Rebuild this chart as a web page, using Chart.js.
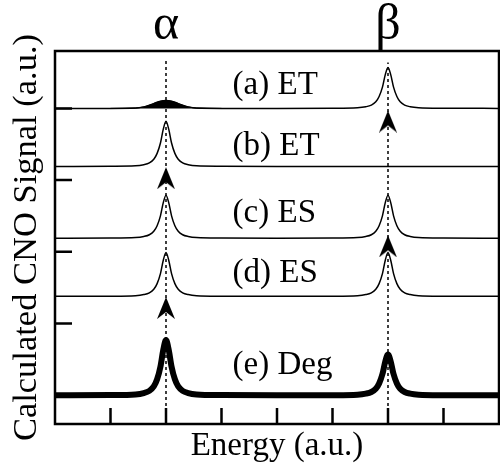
<!DOCTYPE html>
<html>
<head>
<meta charset="utf-8">
<script src="https://cdn.jsdelivr.net/npm/chart.js@4.4.1/dist/chart.umd.min.js"></script>
<style>
  html, body { margin: 0; padding: 0; background: #fff; }
  canvas { display: block; }
</style>
</head>
<body>
<canvas id="chart" width="500" height="466"></canvas>
<script>
// energy grid (a.u.), denser round the two peaks
var energy = [0, 1.0, 1.45, 1.6, 1.7, 1.78, 1.84, 1.9, 1.95, 2.0, 2.05, 2.1, 2.16, 2.22, 2.3, 2.4, 2.55, 3.0,
              4.0,
              5.0, 5.45, 5.6, 5.7, 5.78, 5.84, 5.9, 5.95, 6.0, 6.05, 6.1, 6.16, 6.22, 6.3, 6.4, 6.55, 7.0,
              8.0];

// stacked traces, already offset
var traceA = [4.0, 4.0, 4.004, 4.021, 4.044, 4.066, 4.085, 4.099, 4.107, 4.11, 4.107, 4.099, 4.085, 4.066, 4.044, 4.021, 4.004, 4.0,
              4.0,
              4.002, 4.009, 4.023, 4.046, 4.091, 4.165, 4.296, 4.467, 4.57, 4.467, 4.296, 4.165, 4.091, 4.046, 4.023, 4.009, 4.002,
              4.0];
var traceB = [3.19, 3.193, 3.199, 3.215, 3.24, 3.291, 3.373, 3.518, 3.707, 3.82, 3.707, 3.518, 3.373, 3.291, 3.24, 3.215, 3.199, 3.193,
              3.19,
              3.19, 3.19, 3.19, 3.19, 3.19, 3.19, 3.19, 3.19, 3.19, 3.19, 3.19, 3.19, 3.19, 3.19, 3.19, 3.19, 3.19,
              3.19];
var traceC = [2.19, 2.192, 2.199, 2.214, 2.238, 2.286, 2.364, 2.502, 2.682, 2.79, 2.682, 2.502, 2.364, 2.286, 2.238, 2.214, 2.199, 2.192,
              2.19,
              2.192, 2.199, 2.214, 2.238, 2.286, 2.364, 2.502, 2.682, 2.79, 2.682, 2.502, 2.364, 2.286, 2.238, 2.214, 2.199, 2.192,
              2.19];
var traceD = [1.38, 1.382, 1.389, 1.404, 1.429, 1.478, 1.557, 1.697, 1.88, 1.99, 1.88, 1.697, 1.557, 1.478, 1.429, 1.404, 1.389, 1.382,
              1.38,
              1.382, 1.389, 1.404, 1.429, 1.478, 1.557, 1.697, 1.88, 1.99, 1.88, 1.697, 1.557, 1.478, 1.429, 1.404, 1.389, 1.382,
              1.38];
var traceE = [0, 0.003, 0.012, 0.031, 0.062, 0.123, 0.223, 0.4, 0.631, 0.77, 0.631, 0.4, 0.223, 0.123, 0.062, 0.031, 0.012, 0.003,
              0,
              0.002, 0.009, 0.023, 0.046, 0.091, 0.165, 0.296, 0.467, 0.57, 0.467, 0.296, 0.165, 0.091, 0.046, 0.023, 0.009, 0.002,
              0];

var peakNames = ['α', 'β'];
var peakEnergy = [2, 6];
var guideTop = [4.67, 4.64];

var arrowX = [6, 2, 6, 2];
var arrowTip = [3.97, 3.18, 2.23, 1.37];

var panelLabels = ['(a) ET', '(b) ET', '(c) ES', '(d) ES', '(e) Deg'];
var panelLabelX = 3.2;
var panelLabelY = [4.195, 3.345, 2.41, 1.575, 0.293];

var xTicks = [1, 2, 3, 4, 5, 6, 7];
var yTicks = [0, 1, 2, 3, 4];

function toPoints(xs, ys) {
    var pts = [];
    for (var i = 0; i < xs.length; i++) {
        pts.push({ x: xs[i], y: ys[i] });
    }
    return pts;
}

function arrowHead() {
    var c = document.createElement('canvas');
    c.width = 18;
    c.height = 44;
    var g = c.getContext('2d');
    g.fillStyle = '#000';
    g.beginPath();
    g.moveTo(9, 22);
    g.lineTo(18, 44);
    g.lineTo(9, 37);
    g.lineTo(0, 44);
    g.closePath();
    g.fill();
    return c;
}

var serif = '"Liberation Serif", "Times New Roman", serif';

function trace(data, width) {
    return {
        data: toPoints(energy, data),
        borderColor: '#000',
        borderWidth: width,
        pointRadius: 0,
        fill: false,
        cubicInterpolationMode: 'monotone'
    };
}

var datasets = [];

// dotted guides at the two peak energies
for (var i = 0; i < peakEnergy.length; i++) {
    datasets.push({
        data: [{ x: peakEnergy[i], y: -0.4 }, { x: peakEnergy[i], y: guideTop[i] }],
        borderColor: '#000',
        borderWidth: 1.5,
        borderDash: [3, 3],
        pointRadius: 0
    });
}

// small filled hump in (a)
datasets.push({
    data: toPoints(energy.slice(1, 18), traceA.slice(1, 18)),
    borderColor: '#000',
    borderWidth: 1,
    backgroundColor: '#000',
    pointRadius: 0,
    fill: { value: 4.0 },
    cubicInterpolationMode: 'monotone'
});

datasets.push(trace(traceA, 1.5));
datasets.push(trace(traceB, 1.5));
datasets.push(trace(traceC, 1.5));
datasets.push(trace(traceD, 1.5));
datasets.push(trace(traceE, 6));

datasets.push({
    data: toPoints(arrowX, arrowTip),
    showLine: false,
    pointStyle: arrowHead(),
    pointRadius: 10
});

var frame = {
    id: 'frame',
    afterDatasetsDraw: function (chart) {
        var ctx = chart.ctx;
        var a = chart.chartArea;
        var xs = chart.scales.x;
        var ys = chart.scales.y;
        ctx.save();
        ctx.strokeStyle = '#000';
        ctx.lineWidth = 2.5;
        ctx.beginPath();
        xTicks.forEach(function (v) {
            var px = xs.getPixelForValue(v);
            ctx.moveTo(px, a.bottom);
            ctx.lineTo(px, a.bottom - 16);
        });
        yTicks.forEach(function (v) {
            var py = ys.getPixelForValue(v);
            ctx.moveTo(a.left, py);
            ctx.lineTo(a.left + 17, py);
        });
        ctx.stroke();
        ctx.strokeRect(a.left, a.top, a.right - a.left, a.bottom - a.top);

        ctx.fillStyle = '#000';
        ctx.font = '33px ' + serif;
        ctx.textAlign = 'left';
        ctx.textBaseline = 'alphabetic';
        panelLabels.forEach(function (t, k) {
            ctx.fillText(t, xs.getPixelForValue(panelLabelX), ys.getPixelForValue(panelLabelY[k]));
        });
        ctx.restore();
    }
};

function noSidePadding(s) {
    s.paddingLeft = 0;
    s.paddingRight = 0;
}

new Chart(document.getElementById('chart'), {
    type: 'line',
    data: { datasets: datasets },
    plugins: [frame],
    options: {
        responsive: false,
        animation: false,
        layout: { autoPadding: false, padding: { right: 1 } },
        plugins: {
            legend: { display: false },
            tooltip: { enabled: false }
        },
        scales: {
            x: {
                type: 'linear',
                min: 0,
                max: 8,
                grid: { display: false, drawTicks: false },
                border: { display: false },
                ticks: { display: false },
                title: {
                    display: true,
                    text: 'Energy (a.u.)',
                    color: '#000',
                    font: { family: serif, size: 33, lineHeight: 1 },
                    padding: { top: 6, bottom: 3 }
                },
                afterFit: function (s) { s.height = 42; noSidePadding(s); }
            },
            top: {
                type: 'linear',
                position: 'top',
                min: 0,
                max: 8,
                grid: { display: false, drawTicks: false },
                border: { display: false },
                afterBuildTicks: function (s) {
                    s.ticks = peakEnergy.map(function (v) { return { value: v }; });
                },
                ticks: {
                    autoSkip: false,
                    maxRotation: 0,
                    padding: 0,
                    color: '#000',
                    font: { family: serif, size: 50, lineHeight: 1 },
                    callback: function (v) {
                        return peakNames[peakEnergy.indexOf(v)];
                    }
                },
                afterFit: function (s) { s.height = 51; noSidePadding(s); }
            },
            y: {
                min: -0.4,
                max: 4.8,
                grid: { display: false, drawTicks: false },
                border: { display: false },
                ticks: { display: false },
                title: {
                    display: true,
                    text: 'Calculated CNO Signal (a.u.)',
                    color: '#000',
                    font: { family: serif, size: 34.5, lineHeight: 1 },
                    padding: { top: 10, bottom: 10.5 }
                },
                afterFit: function (s) { s.width = 55; }
            }
        }
    }
});
</script>
</body>
</html>
